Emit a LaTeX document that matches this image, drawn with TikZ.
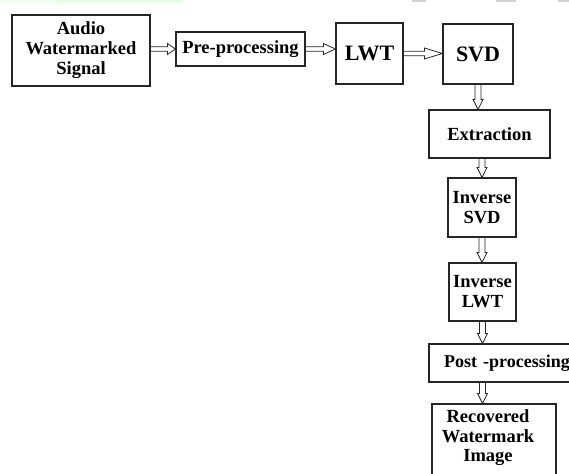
\documentclass[tikz,border=0pt]{standalone}
\usepackage{fontspec}
\setmainfont{Liberation Serif}
\usetikzlibrary{calc}
\newcommand\hollowh[3][8pt]{%
  \draw[arrline] let \p1=(#2), \p2=(#3) in
    (\x1+0.6pt,\y1+2.2pt) -- (\x2-#1,\y1+2.2pt) -- (\x2-#1,\y1+5.5pt) -- (\x2,\y1)
    -- (\x2-#1,\y1-5.5pt) -- (\x2-#1,\y1-2.2pt) -- (\x1+0.6pt,\y1-2.2pt);}
\newcommand\hollowv[3][10pt]{%
  \draw[arrline] let \p1=(#2), \p2=(#3) in
    (\x1-3pt,\y1-0.6pt) -- (\x1-3pt,\y2+#1) -- (\x1-5pt,\y2+#1) -- (\x1,\y2)
    -- (\x1+5pt,\y2+#1) -- (\x1+3pt,\y2+#1) -- (\x1+3pt,\y1-0.6pt);}
\begin{document}
\begin{tikzpicture}[x=1pt,y=-1pt,
  box/.style={draw=black!85, line width=1.2pt, inner sep=0pt, align=center,
    font=\fontsize{18.5}{20}\selectfont\bfseries},
  big/.style={font=\fontsize{22}{24}\selectfont\bfseries},
  txt/.style={inner sep=0pt, align=center, font=\fontsize{18.5}{19.5}\selectfont\bfseries},
  arrline/.style={draw=black!85, line width=0.8pt, line join=miter},
]
\useasboundingbox (0,0) rectangle (569,473);
% screenshot strips at the top edge
\fill[green!6!white] (0,0) rectangle (56,3);
\fill[green!10!white] (56,0) rectangle (182,3);
\fill[black!18] (412,0) rectangle (426,2);
\fill[black!18] (496,0) rectangle (516,2);
\fill[black!18] (558,0) rectangle (569,2);

\node[box, minimum width=138pt, minimum height=71pt] (audio) at (81,50.5) {Audio\\Watermarked\\Signal};
\node[box, minimum width=129pt, minimum height=34pt] (pre) at (240.5,49) {Pre-processing};
\node[box, big, minimum width=67pt, minimum height=61pt] (lwt) at (369.5,53.5) {LWT};
\node[box, big, minimum width=70pt, minimum height=60pt] (svd) at (478,54) {SVD};
\node[box, minimum width=121pt, minimum height=48pt] (ext) at (489.5,134) {Extraction};
\node[box, minimum width=68pt, minimum height=59pt] (isvd) at (482,207.5) {Inverse\\SVD};
\node[box, minimum width=67pt, minimum height=58pt] (ilwt) at (482.5,292) {Inverse\\LWT};
\node[box, minimum width=149pt, minimum height=38pt, text width=149pt,
  font=\fontsize{18}{20}\selectfont\bfseries] (post) at (503.5,363) {\hspace*{7pt}Post -processing\hfill};
\node[box, minimum width=124pt, minimum height=88pt] (rec) at (494,448) {};
\node[txt] (rectext) at (488,438) {Recovered\\Watermark\\Image};

\hollowh{audio.east |- pre.west}{pre.west}
\hollowh[12pt]{pre.east}{pre.east -| lwt.west}
\hollowh[18pt]{lwt.east}{lwt.east -| svd.west}
\hollowv{svd.south}{svd.south |- ext.north}
\hollowv{isvd.north |- ext.south}{isvd.north}
\hollowv{isvd.south}{isvd.south |- ilwt.north}
\hollowv{ilwt.south}{ilwt.south |- post.north}
\hollowv{ilwt.south |- post.south}{ilwt.south |- rec.north}
\end{tikzpicture}
\end{document}
